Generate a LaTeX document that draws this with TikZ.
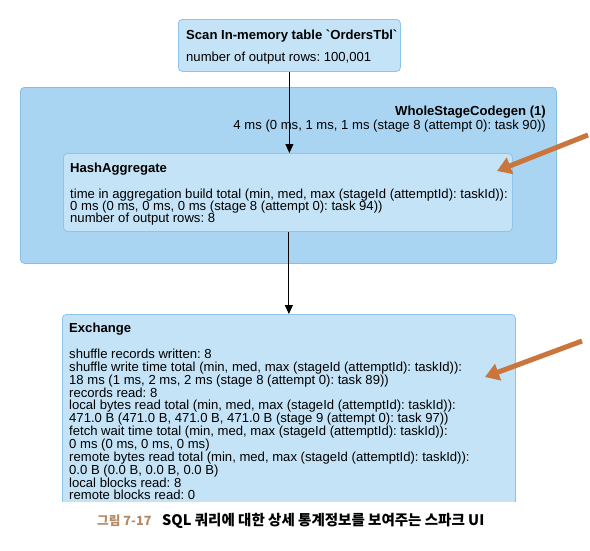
\documentclass[tikz,border=0pt]{standalone}
\usepackage{fontspec}
\setmainfont{Liberation Sans}
\newfontfamily\krfont{Noto Sans CJK KR}
\usetikzlibrary{arrows.meta}
\definecolor{outerfill}{HTML}{A9D5F2}
\definecolor{outerline}{HTML}{86BFE6}
\definecolor{innerfill}{HTML}{C4E3F6}
\definecolor{innerline}{HTML}{8CC4EA}
\definecolor{hintcol}{HTML}{C9753D}
\definecolor{captan}{HTML}{B48A64}
\newcommand{\gravechar}{{\addfontfeatures{Ligatures=TeXOff}\symbol{96}}}
\begin{document}
\frenchspacing
\begin{tikzpicture}[x=1pt,y=1pt,
  boxbase/.style={rounded corners=4pt, line width=0.8pt, inner sep=0pt, anchor=north west},
  outerbox/.style={boxbase, draw=outerline, fill=outerfill},
  innerbox/.style={boxbase, draw=innerline, fill=innerfill},
  txt/.style={font=\fontsize{13.1}{13}\selectfont\frenchspacing, anchor=base west, inner sep=0pt},
  ttl/.style={font=\fontsize{13.1}{13}\selectfont\bfseries\frenchspacing, anchor=base west, inner sep=0pt},
  flow/.style={-{Triangle[length=9pt,width=8pt]}, line width=0.9pt, black},
  hint/.style={draw=hintcol, line width=5pt, -{Triangle[length=14pt,width=17pt]}},
  capnum/.style={font=\krfont\bfseries\fontsize{12.7}{15}\selectfont, anchor=base west, inner sep=0pt},
  captxt/.style={font=\krfont\bfseries\fontsize{14.5}{16}\selectfont, anchor=base west, inner sep=0pt}
]
\useasboundingbox[fill=white] (0,0) rectangle (590,-550);

% Scan box
\node[innerbox, minimum width=222pt, minimum height=52pt] (scan) at (178,-19) {};
\node[ttl] (scant) at (186,-39) {Scan In-memory table \gravechar OrdersTbl\gravechar};
\node[txt] (scanr) at (186,-61) {number of output rows: 100,001};

% WholeStageCodegen
\node[outerbox, minimum width=536pt, minimum height=176pt] (wsc) at (20,-87) {};
\node[ttl, anchor=base east] (wsct) at (546,-115) {WholeStageCodegen (1)};
\node[txt, anchor=base east] (wscr) at (546,-129) {4 ms (0 ms, 1 ms, 1 ms (stage 8 (attempt 0): task 90))};

% HashAggregate
\node[innerbox, minimum width=449pt, minimum height=78pt] (hash) at (63,-153) {};
\node[ttl] (hasht) at (70,-172) {HashAggregate};
\foreach \t [count=\i] in {{time in aggregation build total (min, med, max (stageId (attemptId): taskId)):},
  {0 ms (0 ms, 0 ms, 0 ms (stage 8 (attempt 0): task 94))},
  {number of output rows: 8}}
  \node[txt] (hash\i) at (70,{-198-12*(\i-1)}) {\t};

% Exchange (cut off at the bottom)
\begin{scope}
\clip (0,0) rectangle (590,-501);
\node[innerbox, minimum width=453pt, minimum height=230pt] (ex) at (62,-314) {};
\node[ttl] (ext) at (69,-332) {Exchange};
\foreach \t [count=\i] in {{shuffle records written: 8},
  {shuffle write time total (min, med, max (stageId (attemptId): taskId)):},
  {18 ms (1 ms, 2 ms, 2 ms (stage 8 (attempt 0): task 89))},
  {records read: 8},
  {local bytes read total (min, med, max (stageId (attemptId): taskId)):},
  {471.0 B (471.0 B, 471.0 B, 471.0 B (stage 9 (attempt 0): task 97))},
  {fetch wait time total (min, med, max (stageId (attemptId): taskId)):},
  {0 ms (0 ms, 0 ms, 0 ms)},
  {remote bytes read total (min, med, max (stageId (attemptId): taskId)):},
  {0.0 B (0.0 B, 0.0 B, 0.0 B)},
  {local blocks read: 8},
  {remote blocks read: 0}}
  \node[txt] (ex\i) at (69,{-358.5-12.85*(\i-1)}) {\t};
\end{scope}

% flow connectors
\draw[flow] (scan.south) -- (scan.south |- hash.north);
\draw[flow] (ex.north |- hash.south) -- (ex.north);

% orange hint arrows
\coordinate (h1s) at (588,-135);
\coordinate (h1e) at (497,-171);
\coordinate (h2s) at (582,-341);
\coordinate (h2e) at (485,-377);
\draw[hint] (h1s) -- (h1e);
\draw[hint] (h2s) -- (h2e);

% caption
\node[capnum, text=captan] (capn) at (97,-525) {그림 7-17};
\node[captxt] (capt) at (162,-525) {SQL 쿼리에 대한 상세 통계정보를 보여주는 스파크 UI};
\end{tikzpicture}
\end{document}
